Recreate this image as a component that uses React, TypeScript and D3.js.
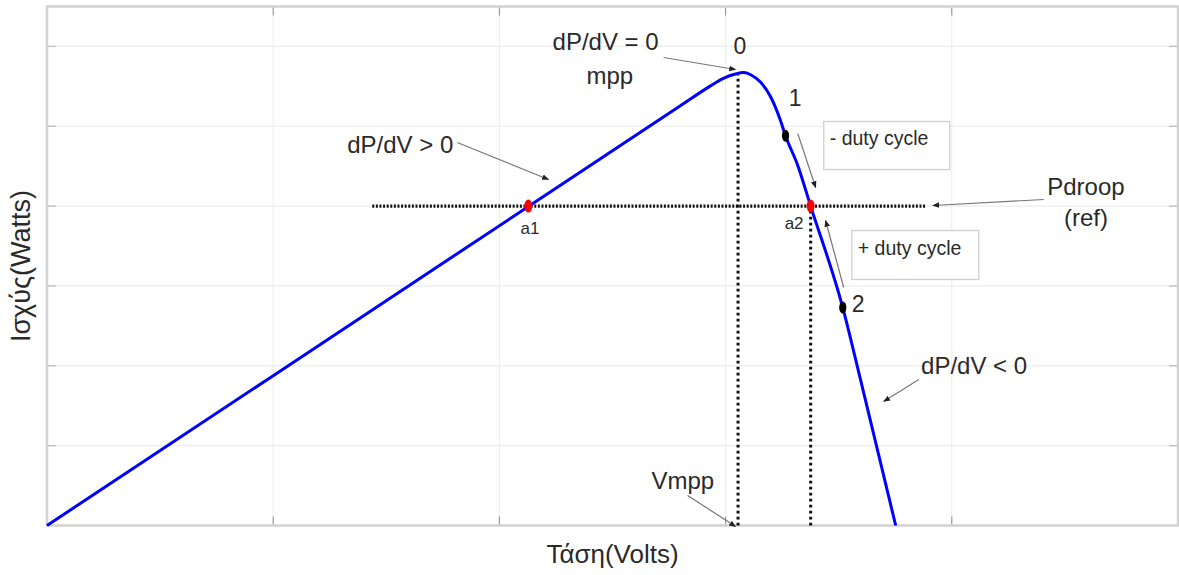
import React from "react";
import * as d3 from "d3";

// P-V curve (voltage in grid units, power in grid units)
const voltage = [0, 1.0, 2.128, 2.8, 2.93, 2.99, 3.044, 3.08, 3.111, 3.155, 3.199, 3.243, 3.265, 3.319, 3.376, 3.518, 3.597, 3.752];
const power = [0, 1.877, 3.995, 5.257, 5.50, 5.60, 5.655, 5.672, 5.645, 5.55, 5.37, 5.07, 4.88, 4.51, 4.0, 2.73, 1.82, 0];

const xTicks = [1, 2, 3, 4];
const yTicks = [1, 2, 3, 4, 5, 6];

const vmpp = 3.055;
const pmpp = 5.67;
const pdroop = 4.0;
const droopLineStart = 1.438;
const droopLineEnd = 3.885;

// operating points
const redPoints = [
  { v: 2.128, p: 4.0, label: "a1" },
  { v: 3.376, p: 4.0, label: "a2" },
];
const blackPoints = [
  { v: 3.265, p: 4.88, label: "1" },
  { v: 3.518, p: 2.73, label: "2" },
];

// annotation arrows: from (v1,p1) to (v2,p2)
const arrows = [
  { v1: 2.726, p1: 5.861, v2: 3.044, p2: 5.711 },
  { v1: 1.814, p1: 4.797, v2: 2.217, p2: 4.333 },
  { v1: 3.319, p1: 4.909, v2: 3.398, p2: 4.233 },
  { v1: 3.522, p1: 2.981, v2: 3.442, p2: 3.82 },
  { v1: 4.407, p1: 4.083, v2: 3.916, p2: 4.008 },
  { v1: 3.854, p1: 1.828, v2: 3.699, p2: 1.553 },
  { v1: 2.832, p1: 0.376, v2: 3.044, p2: -0.013 },
];

// text labels (v = left edge, p = baseline)
const labels = [
  { text: "dP/dV = 0", v: 2.235, p: 5.949, size: 24 },
  { text: "mpp", v: 2.385, p: 5.535, size: 24 },
  { text: "0", v: 3.035, p: 5.911, size: 23 },
  { text: "1", v: 3.279, p: 5.26, size: 23 },
  { text: "dP/dV > 0", v: 1.327, p: 4.671, size: 24 },
  { text: "a1", v: 2.093, p: 3.657, size: 17 },
  { text: "a2", v: 3.261, p: 3.719, size: 17 },
  { text: "2", v: 3.558, p: 2.676, size: 23 },
  { text: "dP/dV < 0", v: 3.864, p: 1.90, size: 24 },
  { text: "Vmpp", v: 2.672, p: 0.463, size: 24 },
];

const centeredLabels = [
  { text: "Pdroop", v: 4.593, p: 4.133, size: 24 },
  { text: "(ref)", v: 4.593, p: 3.745, size: 24 },
];

// boxed labels: box in data units
const boxes = [
  { text: "- duty cycle", v1: 3.434, v2: 3.991, p1: 5.06, p2: 4.458 },
  { text: "+ duty cycle", v1: 3.558, v2: 4.119, p1: 3.694, p2: 3.081 },
];

const W = 1179;
const H = 575;
const FONT = "'Liberation Sans', Arial, Helvetica, sans-serif";

export default function App() {
  const x = d3.scaleLinear().domain([0, 5]).range([47, 1178]);
  const y = d3.scaleLinear().domain([0, 6.5]).range([525.5, 6.5]);

  const pts: [number, number][] = voltage.map((v, i) => [v, power[i]]);
  const line = d3
    .line<[number, number]>()
    .x((d) => x(d[0]))
    .y((d) => y(d[1]))
    .curve(d3.curveMonotoneX);

  const [x0, x1] = x.range();
  const [yb, yt] = y.range();
  const tickLen = 9;
  const textColor = "#2a2a2a";

  return (
    <svg
      width={W}
      height={H}
      style={{ position: "absolute", left: 0, top: 0, background: "#fff" }}
      fontFamily={FONT}
    >
      <defs>
        <marker id="ah" viewBox="0 0 10 10" refX="9" refY="5" markerWidth="7" markerHeight="7" orient="auto-start-reverse" markerUnits="userSpaceOnUse">
          <path d="M0,1 L10,5 L0,9 z" fill="#222" />
        </marker>
      </defs>
      <rect x={0} y={0} width={W} height={H} fill="#fff" />
      {/* grid */}
      {xTicks.map((t) => (
        <line key={"gx" + t} x1={x(t)} x2={x(t)} y1={yb} y2={yt} stroke="#ececec" strokeWidth={1} />
      ))}
      {yTicks.map((t) => (
        <line key={"gy" + t} x1={x0} x2={x1} y1={y(t)} y2={y(t)} stroke="#ececec" strokeWidth={1.2} />
      ))}
      {/* ticks */}
      {xTicks.map((t) => (
        <g key={"tx" + t}>
          <line x1={x(t)} x2={x(t)} y1={yb} y2={yb - tickLen} stroke="#8a8a8a" strokeWidth={1} />
          <line x1={x(t)} x2={x(t)} y1={yt} y2={yt + tickLen} stroke="#8a8a8a" strokeWidth={1} />
        </g>
      ))}
      {yTicks.map((t) => (
        <g key={"ty" + t}>
          <line x1={x0} x2={x0 + tickLen} y1={y(t)} y2={y(t)} stroke="#bdbdbd" strokeWidth={1.3} />
          <line x1={x1} x2={x1 - tickLen} y1={y(t)} y2={y(t)} stroke="#bdbdbd" strokeWidth={1.3} />
        </g>
      ))}
      {/* axes box */}
      <rect x={x0} y={yt} width={x1 - x0} height={yb - yt} fill="none" stroke="#d2d2d2" strokeWidth={2.5} />

      {/* dotted guides */}
      <line x1={x(droopLineStart)} x2={x(droopLineEnd)} y1={y(pdroop)} y2={y(pdroop)} stroke="#111" strokeWidth={3.2} strokeDasharray="2,1.6" />
      <line x1={x(vmpp)} x2={x(vmpp)} y1={y(0)} y2={y(pmpp) + 2} stroke="#111" strokeWidth={3} strokeDasharray="2.8,3.2" />
      <line x1={x(redPoints[1].v)} x2={x(redPoints[1].v)} y1={y(0)} y2={y(pdroop)} stroke="#111" strokeWidth={3} strokeDasharray="2.8,3.2" />

      {/* curve */}
      <path d={line(pts) || ""} fill="none" stroke="#0000ff" strokeWidth={3} />

      {/* points */}
      {redPoints.map((d) => (
        <ellipse key={d.label} cx={x(d.v)} cy={y(d.p)} rx={4} ry={6.5} fill="#ff0000" />
      ))}
      {blackPoints.map((d) => (
        <ellipse key={d.label} cx={x(d.v)} cy={y(d.p)} rx={3.6} ry={6} fill="#000" />
      ))}

      {/* boxes */}
      {boxes.map((b) => (
        <g key={b.text}>
          <rect x={x(b.v1)} y={y(b.p1)} width={x(b.v2) - x(b.v1)} height={y(b.p2) - y(b.p1)} fill="#fff" stroke="#cfcfcf" strokeWidth={1.3} />
          <text x={x(b.v1) + 6} y={y(b.p1) + 24} fontSize={19.5} fill={textColor}>
            {b.text}
          </text>
        </g>
      ))}

      {/* arrows */}
      {arrows.map((a, i) => (
        <line key={"a" + i} x1={x(a.v1)} y1={y(a.p1)} x2={x(a.v2)} y2={y(a.p2)} stroke="#777" strokeWidth={1.2} markerEnd="url(#ah)" />
      ))}

      {/* labels */}
      {labels.map((l) => (
        <text key={l.text} x={x(l.v)} y={y(l.p)} fontSize={l.size} fill={textColor}>
          {l.text}
        </text>
      ))}
      {centeredLabels.map((l) => (
        <text key={l.text} x={x(l.v)} y={y(l.p)} fontSize={l.size} fill={textColor} textAnchor="middle">
          {l.text}
        </text>
      ))}

      {/* axis titles */}
      <text x={(x0 + x1) / 2} y={563} fontSize={26} fill={textColor} textAnchor="middle">
        Τάση(Volts)
      </text>
      <text transform={`translate(30, ${(yb + yt) / 2}) rotate(-90)`} fontSize={27} fill={textColor} textAnchor="middle">
        Ισχύς(Watts)
      </text>
    </svg>
  );
}
